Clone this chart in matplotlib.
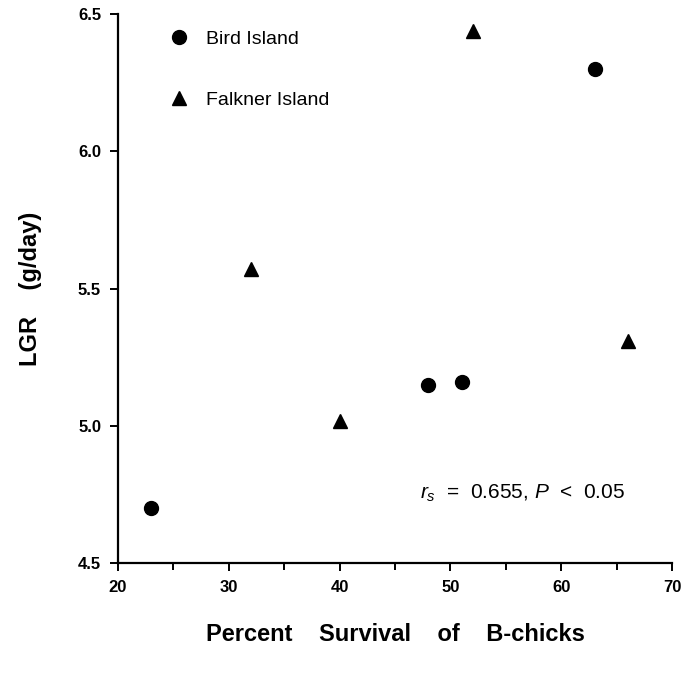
import matplotlib
matplotlib.use("Agg")
import matplotlib.pyplot as plt
from matplotlib.ticker import MultipleLocator, FormatStrFormatter

plt.rcParams['font.family'] = ['Liberation Sans', 'DejaVu Sans']
plt.rcParams['mathtext.fontset'] = 'custom'
plt.rcParams['mathtext.rm'] = 'Liberation Sans'
plt.rcParams['mathtext.it'] = 'Liberation Sans:italic'

# data
bird_x = [23, 48, 51, 63]
bird_y = [4.70, 5.15, 5.16, 6.30]
falkner_x = [32, 40, 52, 66]
falkner_y = [5.57, 5.02, 6.44, 5.31]

fig = plt.figure(figsize=(6.81, 6.73), dpi=100)
ax = fig.add_axes([0.173, 0.163, 0.814, 0.816])

ax.plot(bird_x, bird_y, 'o', color='black', markersize=10, label='Bird Island')
ax.plot(falkner_x, falkner_y, '^', color='black', markersize=10, label='Falkner Island')

ax.set_xlim(20, 70)
ax.set_ylim(4.5, 6.5)
ax.xaxis.set_major_locator(MultipleLocator(10))
ax.xaxis.set_minor_locator(MultipleLocator(5))
ax.yaxis.set_major_locator(MultipleLocator(0.5))
ax.yaxis.set_major_formatter(FormatStrFormatter('%.1f'))

for s in ['top', 'right']:
    ax.spines[s].set_visible(False)
for s in ['left', 'bottom']:
    ax.spines[s].set_linewidth(1.6)

ax.tick_params(which='major', direction='out', length=6, width=1.4, labelsize=12, pad=6)
ax.tick_params(which='minor', direction='out', length=5, width=1.4)
for lbl in ax.get_xticklabels() + ax.get_yticklabels():
    lbl.set_fontweight('bold')

ax.set_xlabel('Percent    Survival    of    B-chicks', fontsize=17, fontweight='bold', labelpad=20)
ax.set_ylabel('LGR    (g/day)', fontsize=17, fontweight='bold', labelpad=26)

ax.legend(loc='upper left', bbox_to_anchor=(0.043, 1.002), frameon=False, fontsize=14,
          labelspacing=2.2, handletextpad=0.4, numpoints=1)

ax.text(0.73, 0.128, '$r_s$  =  0.655, $P$  <  0.05', transform=ax.transAxes,
        ha='center', va='center', fontsize=15)

fig.savefig('out.png', dpi=100)
